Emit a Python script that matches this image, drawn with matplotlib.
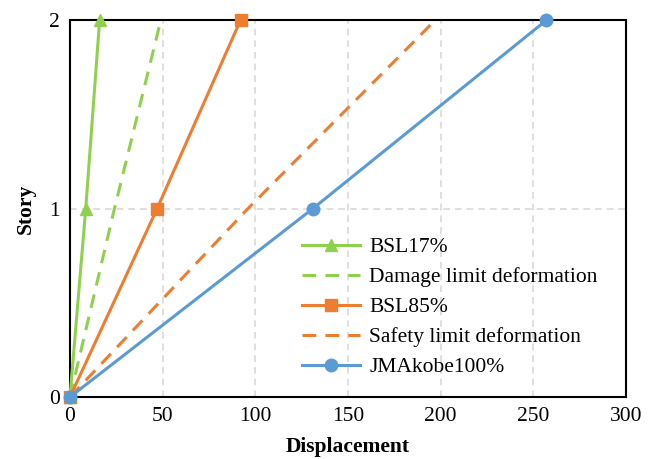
import matplotlib.pyplot as plt

plt.rcParams['font.family'] = ['Liberation Serif', 'DejaVu Serif']

story = [0, 1, 2]
bsl17 = [0, 8.5, 16]
damage_limit = [0, 24, 49]
bsl85 = [0, 47, 92]
safety_limit = [0, 96, 197]
jmakobe100 = [0, 131, 257]

green = "#8fd14f"
orange = "#ed7d31"
blue = "#5b9bd5"
dash = (0, (4.5, 3))

fig = plt.figure(figsize=(6.57, 4.59), dpi=100)
ax = fig.add_axes([0.1065, 0.135, 0.8465, 0.821])

ax.plot(bsl17, story, color=green, lw=2.2, marker="^", ms=8.5, label="BSL17%", clip_on=False, zorder=3)
ax.plot(damage_limit, story, color=green, lw=2.2, ls=dash, label="Damage limit deformation", clip_on=False, zorder=3)
ax.plot(bsl85, story, color=orange, lw=2.2, marker="s", ms=8, label="BSL85%", clip_on=False, zorder=3)
ax.plot(safety_limit, story, color=orange, lw=2.2, ls=dash, label="Safety limit deformation", clip_on=False, zorder=3)
ax.plot(jmakobe100, story, color=blue, lw=2.2, marker="o", ms=9, label="JMAkobe100%", clip_on=False, zorder=3)

ax.set_xlim(0, 300)
ax.set_ylim(0, 2)
ax.set_xticks([0, 50, 100, 150, 200, 250, 300])
ax.set_yticks([0, 1, 2])
ax.grid(True, color="#d9d9d9", ls=(0, (4, 3)), lw=1.2)
ax.set_axisbelow(True)
ax.tick_params(length=0, labelsize=15.5, pad=7)
for s in ax.spines.values():
    s.set_linewidth(1.5)
    s.set_color("black")

ax.set_xlabel("Displacement", fontsize=15.5, fontweight="bold", labelpad=8)
ax.set_ylabel("Story", fontsize=15.5, fontweight="bold", labelpad=10)

ax.legend(loc="lower right", bbox_to_anchor=(0.964, 0.03), borderaxespad=0, frameon=False, fontsize=15.5,
          handlelength=2.7, handletextpad=0.42, labelspacing=0.46)

fig.savefig("out.png", dpi=100)
